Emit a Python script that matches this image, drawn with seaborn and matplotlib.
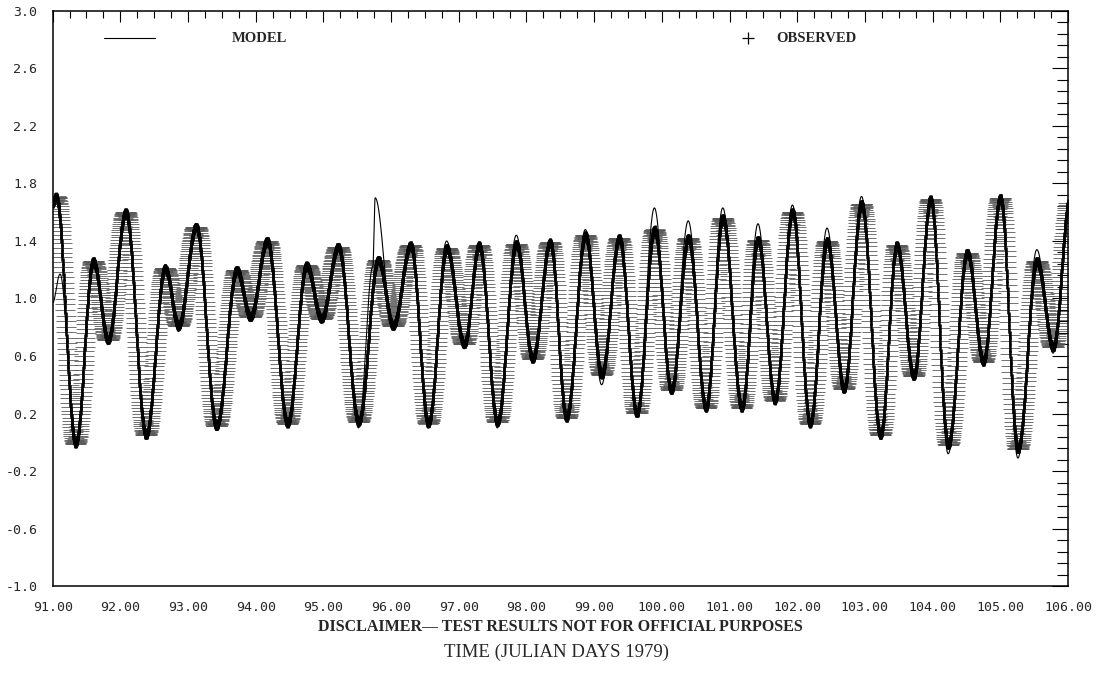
import numpy as np
import pandas as pd
import seaborn as sns
import matplotlib.pyplot as plt
from matplotlib.lines import Line2D
from matplotlib.ticker import FixedLocator, MultipleLocator, FormatStrFormatter

# High and low waters (julian day 1979, elevation)
obs_days = [91.00, 91.05, 91.34, 91.60, 91.82, 92.08, 92.38, 92.66, 92.86, 93.12,
            93.42, 93.72, 93.92, 94.17, 94.47, 94.75, 94.97, 95.22, 95.52, 95.81,
            96.03, 96.29, 96.55, 96.82, 97.08, 97.30, 97.57, 97.85, 98.09, 98.35,
            98.59, 98.87, 99.11, 99.37, 99.63, 99.89, 100.14, 100.39, 100.65, 100.90,
            101.18, 101.42, 101.67, 101.93, 102.19, 102.44, 102.69, 102.95, 103.23, 103.47,
            103.72, 103.97, 104.23, 104.51, 104.75, 105.00, 105.26, 105.54, 105.78, 106.03]
obs_elev = [1.66, 1.71, -0.01, 1.26, 0.71, 1.60, 0.05, 1.21, 0.81, 1.50,
            0.11, 1.20, 0.87, 1.40, 0.13, 1.23, 0.86, 1.36, 0.14, 1.27,
            0.81, 1.37, 0.13, 1.35, 0.68, 1.37, 0.14, 1.38, 0.58, 1.39,
            0.17, 1.44, 0.47, 1.42, 0.20, 1.48, 0.36, 1.42, 0.24, 1.56,
            0.24, 1.41, 0.29, 1.60, 0.13, 1.40, 0.37, 1.66, 0.05, 1.37,
            0.46, 1.69, -0.02, 1.32, 0.56, 1.70, -0.05, 1.26, 0.66, 1.70]

model_days = [91.00, 91.11, 91.34, 91.60, 91.82, 92.08, 92.38, 92.66, 92.86, 93.12,
              93.42, 93.72, 93.92, 94.17, 94.47, 94.75, 94.97, 95.22, 95.52, 95.73,
              95.765, 96.03, 96.29, 96.55, 96.82, 97.08, 97.30, 97.57, 97.85, 98.09,
              98.35, 98.59, 98.87, 99.11, 99.37, 99.63, 99.89, 100.14, 100.39, 100.65,
              100.90, 101.18, 101.42, 101.67, 101.93, 102.19, 102.44, 102.69, 102.95, 103.23,
              103.47, 103.72, 103.97, 104.23, 104.51, 104.75, 105.00, 105.26, 105.54, 105.78,
              106.03]
model_elev = [0.97, 1.17, -0.03, 1.27, 0.69, 1.61, 0.04, 1.22, 0.77, 1.52,
              0.10, 1.21, 0.84, 1.42, 0.12, 1.25, 0.83, 1.38, 0.10, 1.22,
              1.70, 0.79, 1.38, 0.10, 1.40, 0.65, 1.39, 0.10, 1.44, 0.56,
              1.41, 0.15, 1.48, 0.40, 1.44, 0.18, 1.63, 0.36, 1.54, 0.25,
              1.63, 0.22, 1.52, 0.28, 1.65, 0.11, 1.49, 0.35, 1.71, 0.02,
              1.38, 0.44, 1.70, -0.08, 1.33, 0.53, 1.71, -0.11, 1.34, 0.62,
              1.72]

y_major = [-1.0, -0.6, -0.2, 0.2, 0.6, 1.0, 1.4, 1.8, 2.2, 2.6, 3.0]


def tide_curve(days, elev, step, t_end=106.0):
    # half-cosine between successive high / low waters
    days = np.asarray(days)
    elev = np.asarray(elev)
    t = np.arange(days[0], t_end + 1e-9, step)
    seg = np.clip(np.searchsorted(days, t, side='right') - 1, 0, len(days) - 2)
    t0, t1 = days[seg], days[seg + 1]
    v0, v1 = elev[seg], elev[seg + 1]
    frac = (t - t0) / (t1 - t0)
    v = v0 + (v1 - v0) * (1 - np.cos(np.pi * frac)) / 2
    return pd.DataFrame({'day': t, 'elev': v})


# observed every 6 minutes
obs = tide_curve(obs_days, obs_elev, 0.1 / 24)
model = tide_curve(model_days, model_elev, 0.02 / 24)

sns.set_style("white")
plt.rcParams['font.family'] = ['DejaVu Sans Mono']

fig = plt.figure(figsize=(11.01, 6.85), dpi=100)
ax = fig.add_axes([0.0478, 0.1445, 0.9222, 0.8395])

# observed: '+' drawn as wide horizontal arms and short dark vertical arms
sns.scatterplot(data=obs, x='day', y='elev', marker='_', s=210,
                color='0.35', linewidth=0.6, ax=ax, legend=False)
sns.scatterplot(data=obs, x='day', y='elev', marker='|', s=36,
                color='black', linewidth=1.8, ax=ax, legend=False)

# model
sns.lineplot(data=model, x='day', y='elev', color='black', linewidth=0.8,
             sort=False, estimator=None, ax=ax, legend=False)

ax.set_xlim(91, 106)
ax.set_ylim(-1.0, 3.0)
ax.xaxis.set_major_locator(MultipleLocator(1))
ax.xaxis.set_minor_locator(MultipleLocator(0.25))
ax.yaxis.set_major_locator(FixedLocator(y_major))
ax.yaxis.set_minor_locator(FixedLocator([y_major[0] + 0.08 * k for k in range(51)]))
ax.xaxis.set_major_formatter(FormatStrFormatter('%.2f'))
ax.yaxis.set_major_formatter(FormatStrFormatter('%.1f'))

ax.tick_params(axis='both', which='both', direction='in', top=True, right=True,
               width=0.8, color='black', labelsize=9.5, pad=11)
ax.tick_params(axis='x', which='major', length=8)
ax.tick_params(axis='x', which='minor', length=5)
ax.tick_params(axis='y', which='major', length=11.5)
ax.tick_params(axis='y', which='minor', length=8)
for s in ax.spines.values():
    s.set_linewidth(1.1)
    s.set_color('black')
ax.set_xlabel('')
ax.set_ylabel('')

# legend drawn by hand like the original
fig.add_artist(Line2D([104 / 1101, 155 / 1101], [1 - 38 / 685] * 2,
                      color='black', linewidth=0.8))
fig.text(232 / 1101, 1 - 38 / 685, 'MODEL', family='Liberation Serif',
         fontweight='bold', fontsize=10.5, va='center', ha='left')
fig.add_artist(Line2D([748 / 1101], [1 - 38 / 685], marker='+', markersize=8,
                      markeredgewidth=0.9, color='black', linestyle='none'))
fig.text(776 / 1101, 1 - 38 / 685, 'OBSERVED', family='Liberation Serif',
         fontweight='bold', fontsize=10.5, va='center', ha='left')

fig.text(560 / 1101, 1 - 627 / 685, 'DISCLAIMER\u2014 TEST RESULTS NOT FOR OFFICIAL PURPOSES',
         family='Liberation Serif', fontweight='bold', fontsize=11.5,
         va='center', ha='center')
fig.text(556 / 1101, 1 - 652 / 685, 'TIME (JULIAN DAYS 1979)',
         family='Liberation Serif', fontsize=13.5, va='center', ha='center')

fig.savefig('out.png', dpi=100)
